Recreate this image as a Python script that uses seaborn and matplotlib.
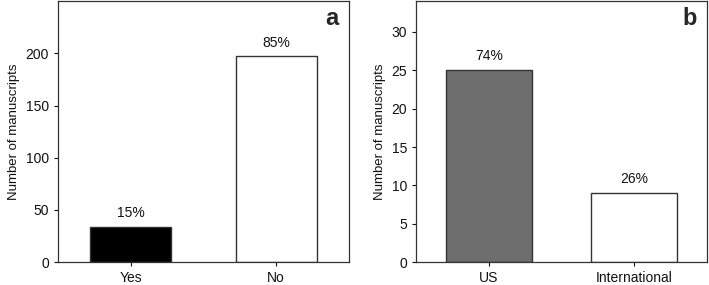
import numpy as np
import pandas as pd
from matplotlib import pyplot as plt
import seaborn as sns

# panel a: conflict of interest statement
labels_a = ['Yes', 'No']
counts_a = [34, 197]
pct_a = ['15%', '85%']
colors_a = ['#000000', '#ffffff']

# panel b: origin of manuscripts
labels_b = ['US', 'International']
counts_b = [25, 9]
pct_b = ['74%', '26%']
colors_b = ['#6e6e6e', '#ffffff']

sns.set_style('ticks')
plt.rcParams['font.family'] = ['Liberation Sans', 'DejaVu Sans']

fig, axes = plt.subplots(1, 2, figsize=(7.09, 2.85), dpi=100)


def draw_panel(ax, labels, counts, pct, colors, ylim, yticks, letter, width):
    df = pd.DataFrame({'cat': labels, 'n': counts})
    sns.barplot(data=df, x='cat', y='n', hue='cat', palette=colors,
                width=width, edgecolor='#333333', linewidth=1.0,
                legend=False, ax=ax)
    for i, (n, p) in enumerate(zip(counts, pct)):
        ax.annotate(p, (i, n), xytext=(0, 5), textcoords='offset points',
                    ha='center', va='bottom', fontsize=10, color='#111111')
    ax.set_xlim(-0.5, 1.5)
    ax.set_ylim(*ylim)
    ax.set_yticks(yticks)
    ax.set_xlabel('')
    ax.set_ylabel('Number of manuscripts', fontsize=9.5, color='#111111')
    ax.tick_params(labelsize=10, colors='#111111', length=3, width=0.8)
    for s in ax.spines.values():
        s.set_color('#333333')
        s.set_linewidth(0.9)
    ax.text(0.965, 0.935, letter, transform=ax.transAxes, ha='right', va='center',
            fontsize=17, fontweight='bold')


draw_panel(axes[0], labels_a, counts_a, pct_a, colors_a, (0, 250),
           [0, 50, 100, 150, 200], 'a', 0.56)
draw_panel(axes[1], labels_b, counts_b, pct_b, colors_b, (0, 34),
           [0, 5, 10, 15, 20, 25, 30], 'b', 0.59)

fig.subplots_adjust(left=0.082, right=0.492, top=0.996, bottom=0.08, wspace=0.2)
pos = axes[1].get_position()
axes[1].set_position([416 / 709, pos.y0, 291 / 709, pos.height])
axes[0].set_position([58 / 709, pos.y0, 291 / 709, pos.height])

fig.savefig('out.png', dpi=100)
